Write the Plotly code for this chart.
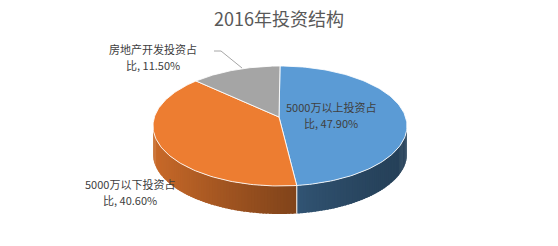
import numpy as np
import plotly.graph_objects as go

# ---- data ----
categories = ["5000万以上投资占比", "5000万以下投资占比", "房地产开发投资占比"]
values = [47.90, 40.60, 11.50]
label_line1 = ["5000万以上投资占", "5000万以下投资占", "房地产开发投资占"]
label_line2 = ["比, 47.90%", "比, 40.60%", "比, 11.50%"]
colors = ["#5B9BD5", "#ED7D31", "#A5A5A5"]
title_text = "2016年投资结构"

# ---- geometry (pixel-like data space) ----
W, H = 558, 246
cx, cy = 280, 126
rx, ry = 127, 60
depth = 28
apex_dy = -9

def hex2rgb(h):
    h = h.lstrip("#")
    return tuple(int(h[i:i + 2], 16) for i in (0, 2, 4))

def shade(h, f):
    r, g, b = hex2rgb(h)
    return "rgb(%d,%d,%d)" % (r * f, g * f, b * f)

def rim(theta_deg):
    t = np.radians(theta_deg)
    return cx + rx * np.sin(t), cy - ry * np.cos(t)

fig = go.Figure()

total = sum(values)
bounds = []
a = 0.0
for v in values:
    b = a + v / total * 360.0
    bounds.append((a, b))
    a = b

# side faces (front half only: 90..270 deg clockwise from top)
step = 1.5
for (a0, a1), col in zip(bounds, colors):
    s0, s1 = max(a0, 90.0), min(a1, 270.0)
    if s1 <= s0:
        continue
    n = max(1, int(np.ceil((s1 - s0) / step)))
    edges = np.linspace(s0, s1, n + 1)
    for i, (e0, e1) in enumerate(zip(edges[:-1], edges[1:])):
        e1x = min(e1 + 0.8, s1) if i < n - 1 else e1
        angs = np.linspace(e0, e1x, 4)
        xs, ys = rim(angs)
        px = list(xs) + list(xs[::-1]) + [xs[0]]
        py = list(ys) + list((ys + depth)[::-1]) + [ys[0]]
        xm = (xs.mean() - (cx - rx)) / (2 * rx)
        f = 0.42 + 0.43 * (1 - xm) ** 1.5
        c = shade(col, f)
        fig.add_trace(go.Scatter(x=px, y=py, mode="lines", fill="toself",
                                 fillcolor=c, line=dict(width=0),
                                 hoverinfo="skip", showlegend=False))
    # vertical slice edge on the side
    for edge in (a0, a1):
        if 90.0 < edge < 270.0:
            ex, ey = rim(edge)
            fig.add_trace(go.Scatter(x=[ex, ex], y=[ey, ey + depth], mode="lines",
                                     line=dict(color="rgba(255,255,255,0.8)", width=1),
                                     hoverinfo="skip", showlegend=False))

# top faces
ax_, ay_ = cx - 1, cy + apex_dy
for (a0, a1), col, name in zip(bounds, colors, categories):
    angs = np.linspace(a0, a1, 120)
    xs, ys = rim(angs)
    px = [ax_] + list(xs) + [ax_]
    py = [ay_] + list(ys) + [ay_]
    fig.add_trace(go.Scatter(x=px, y=py, mode="lines", fill="toself",
                             fillcolor=col, line=dict(color="rgba(255,255,255,0.85)", width=1),
                             name=name, hoverinfo="name", showlegend=False))

# labels (two lines each, 16 px apart)
lab_pos = [(331, 115), (130, 192), (153, 57)]
font = dict(family="Noto Sans CJK SC", size=11, color="#404040")
for l1, l2, (lx, ly) in zip(label_line1, label_line2, lab_pos):
    fig.add_annotation(x=lx, y=ly - 8, xref="x", yref="y", text=l1, showarrow=False,
                       font=font, borderpad=0)
    fig.add_annotation(x=lx, y=ly + 8, xref="x", yref="y", text=l2, showarrow=False,
                       font=font, borderpad=0)

# leader line for the grey slice
fig.add_shape(type="path", path="M 214 51 L 221 51 L 242 68", xref="x", yref="y",
              line=dict(color="#A6A6A6", width=1))

fig.update_layout(
    width=W, height=H,
    margin=dict(l=0, r=0, t=0, b=0),
    paper_bgcolor="white", plot_bgcolor="white",
    xaxis=dict(range=[0, W], visible=False, fixedrange=True),
    yaxis=dict(range=[H, 0], visible=False, fixedrange=True),
    title=dict(text=title_text, x=0.5, xanchor="center", y=1 - 20 / H, yanchor="middle",
               yref="container",
               font=dict(family="Noto Sans CJK SC", size=18, color="#595959")),
)

fig.write_html("out.html")
